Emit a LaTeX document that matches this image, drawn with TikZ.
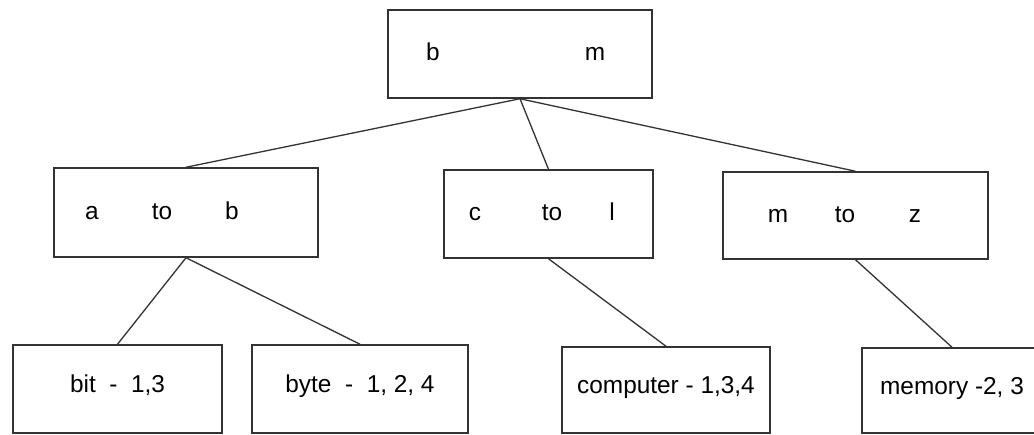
\documentclass[tikz,border=0pt]{standalone}
\usepackage{fontspec}
\setmainfont{Liberation Sans}
\begin{document}
\begin{tikzpicture}[x=1pt,y=-1pt,
  box/.style={draw=black!80, line width=1.5pt, rectangle, inner sep=0pt},
  txt/.style={anchor=base, inner sep=0pt, font=\fontsize{24.4}{28}\selectfont},
  leaf/.style={box, font=\fontsize{24.4}{28}\selectfont, text height=0.72em, text depth=0pt},
  link/.style={draw=black!80, line width=1.3pt}]
\fill[white] (0,0) rectangle (1034,435);
\useasboundingbox (0,0) rectangle (1034,435);
% boxes
\node[box, minimum width=264pt, minimum height=88pt] (root) at (520,54) {};
\node[box, minimum width=264pt, minimum height=89pt] (L) at (186,212.5) {};
\node[box, minimum width=209pt, minimum height=88pt] (M) at (548.5,214) {};
\node[box, minimum width=265pt, minimum height=87pt] (R) at (855.5,215.5) {};
\node[leaf, minimum width=209pt, minimum height=88pt] (bit) at (117.5,389) {bit\ \ -\ \ 1,3};
\node[leaf, minimum width=216pt, minimum height=88pt] (byte) at (360,389) {byte\ \ -\ \ 1, 2, 4};
\node[leaf, minimum width=208pt, minimum height=86pt] (comp) at (666,390) {computer - 1,3,4};
\node[leaf, minimum width=180pt, minimum height=85pt] (mem) at (952,390.5) {memory -2, 3};
% texts inside the upper boxes
\node[txt] (rb) at (433,61) {b};
\node[txt] (rm) at (595,61) {m};
\node[txt] (la) at (92,220) {a};
\node[txt] (lto) at (162,220) {to};
\node[txt] (lb) at (232,220) {b};
\node[txt] (mc) at (475,221) {c};
\node[txt] (mto) at (552,221) {to};
\node[txt] (ml) at (612,221) {l};
\node[txt] (rmm) at (778,223) {m};
\node[txt] (rto) at (845,223) {to};
\node[txt] (rz) at (915,223) {z};
% connectors
\draw[link] (root.south) -- (L.north);
\draw[link] (root.south) -- (M.north);
\draw[link] (root.south) -- (R.north);
\draw[link] (L.south) -- (bit.north);
\draw[link] (L.south) -- (byte.north);
\draw[link] (M.south) -- (comp.north);
\draw[link] (R.south) -- (mem.north);
\end{tikzpicture}
\end{document}
